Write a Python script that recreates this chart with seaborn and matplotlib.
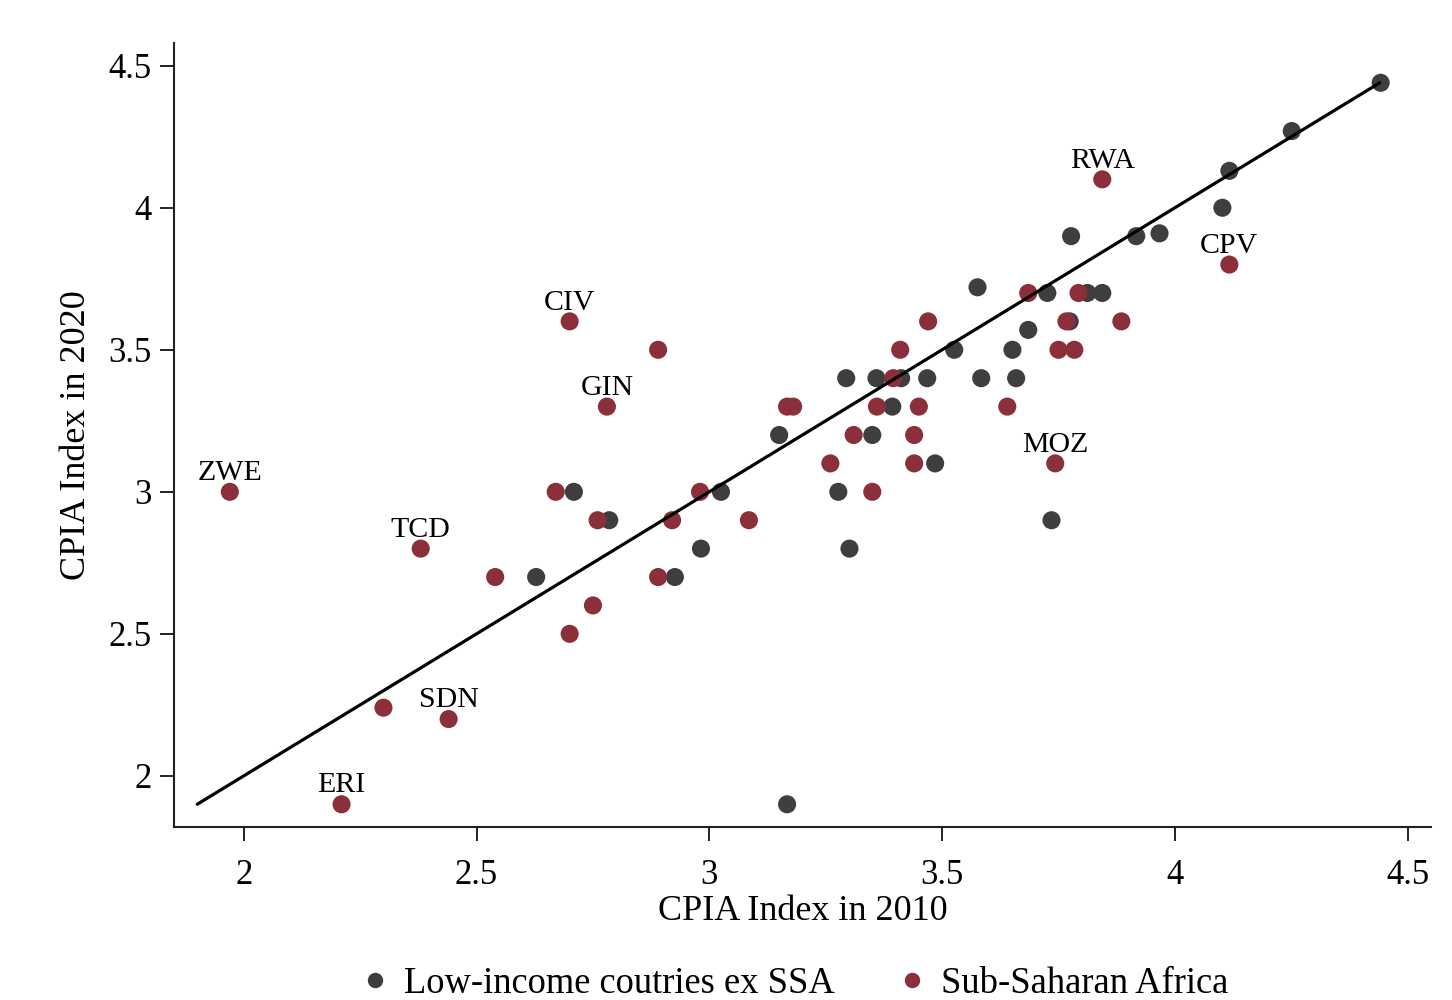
import matplotlib
matplotlib.use("Agg")
import matplotlib.pyplot as plt
import seaborn as sns
import pandas as pd
import numpy as np

# --- Data -------------------------------------------------------------
ssa_x = [1.97, 2.38, 2.21, 2.30, 2.44, 2.54, 2.70, 2.78, 2.89, 2.67, 2.76, 2.75,
         2.70, 2.89, 2.92, 2.98, 3.085, 3.167, 3.18, 3.26, 3.31, 3.35, 3.36, 3.395,
         3.41, 3.44, 3.44, 3.45, 3.47, 3.64, 3.685, 3.75, 3.767, 3.784, 3.793, 3.885,
         3.844, 4.117, 3.743]
ssa_y = [3.0, 2.8, 1.9, 2.24, 2.2, 2.7, 3.6, 3.3, 3.5, 3.0, 2.9, 2.6,
         2.5, 2.7, 2.9, 3.0, 2.9, 3.3, 3.3, 3.1, 3.2, 3.0, 3.3, 3.4,
         3.5, 3.2, 3.1, 3.3, 3.6, 3.3, 3.7, 3.5, 3.6, 3.5, 3.7, 3.6,
         4.1, 3.8, 3.1]
ssa_codes = ["ZWE", "TCD", "ERI", "", "SDN", "", "CIV", "GIN", "", "", "", "",
             "", "", "", "", "", "", "", "", "", "", "", "",
             "", "", "", "", "", "", "", "", "", "", "", "",
             "RWA", "CPV", "MOZ"]

lic_x = [2.628, 2.709, 2.785, 2.926, 2.982, 3.025, 3.15, 3.167, 3.277, 3.294, 3.301,
         3.35, 3.359, 3.393, 3.412, 3.468, 3.485, 3.526, 3.576, 3.584, 3.651, 3.659,
         3.685, 3.726, 3.735, 3.774, 3.777, 3.812, 3.844, 3.917, 3.967, 4.102, 4.117,
         4.251, 4.442]
lic_y = [2.7, 3.0, 2.9, 2.7, 2.8, 3.0, 3.2, 1.9, 3.0, 3.4, 2.8,
         3.2, 3.4, 3.3, 3.4, 3.4, 3.1, 3.5, 3.72, 3.4, 3.5, 3.4,
         3.57, 3.7, 2.9, 3.6, 3.9, 3.7, 3.7, 3.9, 3.91, 4.0, 4.13,
         4.27, 4.44]

group_names = ["Low-income coutries ex SSA", "Sub-Saharan Africa"]
line_x = [1.9, 4.44]
line_y = [1.9, 4.44]

x_ticks = [2, 2.5, 3, 3.5, 4, 4.5]
y_ticks = [2, 2.5, 3, 3.5, 4, 4.5]
x_tick_labels = ["2", "2.5", "3", "3.5", "4", "4.5"]
y_tick_labels = ["2", "2.5", "3", "3.5", "4", "4.5"]

df = pd.DataFrame({
    "x": lic_x + ssa_x,
    "y": lic_y + ssa_y,
    "group": [group_names[0]] * len(lic_x) + [group_names[1]] * len(ssa_x),
})

# --- Style ------------------------------------------------------------
sns.set_theme(style="ticks")
plt.rcParams["font.family"] = ["Liberation Serif", "DejaVu Serif"]
plt.rcParams["text.color"] = "black"
plt.rcParams["axes.labelcolor"] = "black"
plt.rcParams["xtick.color"] = "black"
plt.rcParams["ytick.color"] = "black"

colors = {group_names[0]: "#3e3e3e", group_names[1]: "#8b2f3a"}

fig = plt.figure(figsize=(14.52, 10), dpi=100)
ax = fig.add_axes([0.1198, 0.173, 0.9855 - 0.1198, 0.957 - 0.173])

sns.lineplot(x=line_x, y=line_y, ax=ax, color="black", linewidth=2.3, zorder=3)
sns.scatterplot(data=df, x="x", y="y", hue="group", palette=colors,
                s=170, edgecolor="none", linewidth=0, ax=ax, zorder=2, legend=True)

for cx, cy, code in zip(ssa_x, ssa_y, ssa_codes):
    if code:
        ax.annotate(code, (cx, cy), xytext=(0, 8.5), textcoords="offset points",
                    ha="center", va="baseline", fontsize=21.5, color="black")

ax.set_xlim(1.85, 4.55)
ax.set_ylim(1.82, 4.58)
ax.set_xticks(x_ticks)
ax.set_xticklabels(x_tick_labels)
ax.set_yticks(y_ticks)
ax.set_yticklabels(y_tick_labels)
ax.tick_params(axis="both", labelsize=25, length=10, width=1.4, color="#222222",
               labelcolor="black", direction="out")
ax.tick_params(axis="x", pad=13)
ax.tick_params(axis="y", pad=6)
for s in ["top", "right"]:
    ax.spines[s].set_visible(False)
for s in ["left", "bottom"]:
    ax.spines[s].set_linewidth(1.5)
    ax.spines[s].set_color("#222222")

ax.set_xlabel("CPIA Index in 2010", fontsize=26, labelpad=2)
ax.set_ylabel("CPIA Index in 2020", fontsize=26, labelpad=11)

handles, labels = ax.get_legend_handles_labels()
ax.legend(handles=handles, labels=labels, loc="lower center",
          bbox_to_anchor=(0.5395, -0.034), bbox_transform=fig.transFigure,
          ncol=2, frameon=False, fontsize=26.3, markerscale=0.85,
          handletextpad=-0.2, columnspacing=1.1, title=None)

fig.savefig("out.png", dpi=100, facecolor="white")
